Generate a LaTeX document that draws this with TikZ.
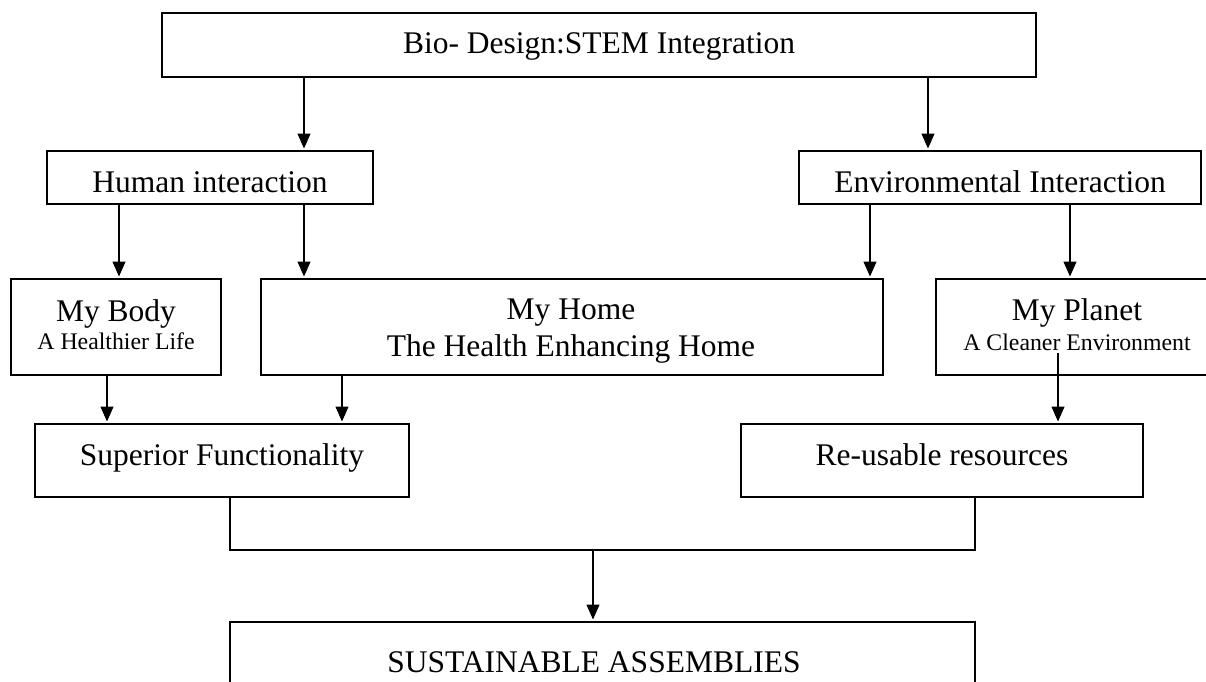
\documentclass[tikz,border=0pt]{standalone}
\usepackage{fontspec}
\setmainfont{Liberation Serif}
\usetikzlibrary{arrows.meta}
\tikzset{
  box/.style={draw=black, line width=1.4pt, inner sep=0pt, outer sep=0pt},
  big/.style={anchor=base, inner sep=0pt, font=\fontsize{31.5}{36}\selectfont},
  small/.style={anchor=base, inner sep=0pt, font=\fontsize{23.8}{28}\selectfont},
  conn/.style={line width=1.3pt},
  arr/.style={line width=1.3pt, -{Triangle[length=15pt,width=13pt]}, shorten >=2.5pt}
}
\begin{document}
\begin{tikzpicture}[x=1pt, y=-1pt]
\useasboundingbox (0,0) rectangle (1206,681);
\clip (0,0) rectangle (1206,681);
% boxes
\node[box, minimum width=874pt, minimum height=64pt] (top) at (599,45) {};
\node[box, minimum width=326pt, minimum height=53pt] (human) at (210,177.5) {};
\node[box, minimum width=402pt, minimum height=53pt] (env) at (1000,177.5) {};
\node[box, minimum width=210pt, minimum height=96pt] (body) at (116,327) {};
\node[box, minimum width=622pt, minimum height=96pt] (home) at (572,327) {};
\node[box, minimum width=282pt, minimum height=96pt] (planet) at (1077,327) {};
\node[box, minimum width=374pt, minimum height=73pt] (superior) at (222,460.5) {};
\node[box, minimum width=402pt, minimum height=73pt] (reusable) at (942,460.5) {};
\node[box, minimum width=745pt, minimum height=108pt] (sust) at (602.5,676) {};
% texts
\node[big] (ttop) at (599,53) {Bio- Design:STEM Integration};
\node[big] (thuman) at (210,192) {Human interaction};
\node[big] (tenv) at (1000,192) {Environmental Interaction};
\node[big] (tbody1) at (116,321) {My Body};
\node[small] (tbody2) at (116,349) {A Healthier Life};
\node[big] (thome1) at (571,319) {My Home};
\node[big] (thome2) at (571,356) {The Health Enhancing Home};
\node[big] (tplanet1) at (1077,320) {My Planet};
\node[small] (tplanet2) at (1077,350) {A Cleaner Environment};
\node[big] (tsup) at (222,465) {Superior Functionality};
\node[big] (treu) at (942,465) {Re-usable resources};
\node[big] (tsust) at (594,672) {SUSTAINABLE ASSEMBLIES};
% x positions of connectors
\coordinate (xa) at (304,0);
\coordinate (xb) at (928,0);
\coordinate (xc) at (119,0);
\coordinate (xd) at (870,0);
\coordinate (xe) at (1070,0);
\coordinate (xf) at (107,0);
\coordinate (xg) at (342,0);
\coordinate (pl) at (1058,353);
\coordinate (xs) at (230,0);
\coordinate (xr) at (975,0);
\coordinate (j) at (593,550);
% connectors
\draw[arr] (top.south -| xa) -- (human.north -| xa);
\draw[arr] (top.south -| xb) -- (env.north -| xb);
\draw[arr] (human.south -| xc) -- (body.north -| xc);
\draw[arr] (human.south -| xa) -- (home.north -| xa);
\draw[arr] (env.south -| xd) -- (home.north -| xd);
\draw[arr] (env.south -| xe) -- (planet.north -| xe);
\draw[arr] (body.south -| xf) -- (superior.north -| xf);
\draw[arr] (home.south -| xg) -- (superior.north -| xg);
\draw[arr] (pl) -- (reusable.north -| pl);
\draw[conn] (superior.south -| xs) -- (xs |- j) -- (xr |- j) -- (reusable.south -| xr);
\draw[arr] (j) -- (sust.north -| j);
\end{tikzpicture}
\end{document}
